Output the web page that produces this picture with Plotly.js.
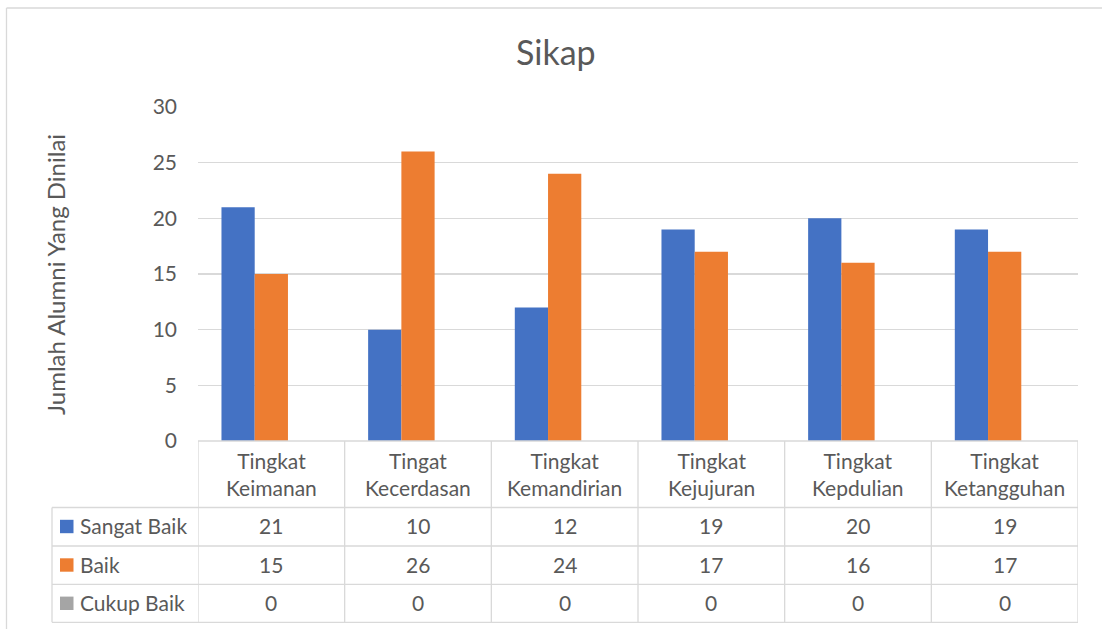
<!DOCTYPE html>
<html>
<head>
<meta charset="utf-8">
<script src="https://cdn.plot.ly/plotly-3.0.1.min.js"></script>
<style>html,body{margin:0;padding:0;background:#fff;}#chart{width:1102px;height:629px;}</style>
</head>
<body>
<div id="chart"></div>
<script>
const categories = ["Tingkat Keimanan", "Tingat Kecerdasan", "Tingkat Kemandirian", "Tingkat Kejujuran", "Tingkat Kepdulian", "Tingkat Ketangguhan"];
const seriesNames = ["Sangat Baik", "Baik", "Cukup Baik"];
const sangatBaik = [21, 10, 12, 19, 20, 19];
const baik = [15, 26, 24, 17, 16, 17];
const cukupBaik = [0, 0, 0, 0, 0, 0];
const yTicks = [0, 5, 10, 15, 20, 25, 30];
const chartTitle = "Sikap";
const yTitle = "Jumlah Alumni Yang Dinilai";

const colors = ["#4472c4", "#ed7d31", "#a5a5a5"];
const seriesValues = [sangatBaik, baik, cukupBaik];
const FONT = "Lato, 'Open Sans', sans-serif";
const TXT = "#595959";
const LINE = "#d9d9d9";
const FS = 21;

// pixel -> paper helpers (plot area: x 198..1078, y 107..441)
const L = 198, R = 1078, T = 107, B = 441;
const px = x => (x - L) / (R - L);
const py = y => (B - y) / (B - T);

const traces = seriesValues.map((vals, i) => ({
  type: "bar",
  name: seriesNames[i],
  x: categories,
  y: vals,
  marker: {color: colors[i], line: {width: 0}},
  hoverinfo: "x+y+name"
}));

const shapes = [];
const hline = (y, x0, x1) => shapes.push({type: "line", xref: "paper", yref: "paper", x0: px(x0), x1: px(x1), y0: py(y), y1: py(y), line: {color: LINE, width: 1.3}});
const vlinePx = (x, y0, y1) => shapes.push({type: "line", xref: "paper", yref: "paper", x0: px(x), x1: px(x), y0: py(y0), y1: py(y1), line: {color: LINE, width: 1.3}});

// outer chart frame (top & left)
shapes.push({type: "line", xref: "paper", yref: "paper", x0: px(6.5), x1: px(1102), y0: py(8), y1: py(8), line: {color: "#d9d9d9", width: 1.3}});
shapes.push({type: "line", xref: "paper", yref: "paper", x0: px(6.5), x1: px(6.5), y0: py(8), y1: py(629), line: {color: "#d9d9d9", width: 1.3}});

// data table
const rowY = [507.5, 546, 584.3, 622.3];
rowY.forEach(y => hline(y, 52, R));
hline(B, L, R);
vlinePx(52, 507.5, 622.3);
for (let k = 0; k <= categories.length; k++) {
  shapes.push({type: "line", xref: "x", yref: "paper", x0: k - 0.5, x1: k - 0.5, y0: py(B), y1: py(622.3), line: {color: LINE, width: 1.3}});
}

const annotations = [];
// title
annotations.push({text: chartTitle, xref: "paper", yref: "paper", x: px(556), y: py(52), xanchor: "center", yanchor: "middle", showarrow: false, font: {family: FONT, size: 34, color: TXT}});
// y axis title
annotations.push({text: yTitle, xref: "paper", yref: "paper", x: px(55), y: py(275), textangle: -90, xanchor: "center", yanchor: "middle", showarrow: false, font: {family: FONT, size: 24, color: TXT}});
// header: category labels
categories.forEach((c, i) => {
  const parts = c.split(" ");
  annotations.push({text: parts[0] + "<br>" + parts.slice(1).join(" "), xref: "x", yref: "paper", x: i, y: py(474), xanchor: "center", yanchor: "middle", showarrow: false, font: {family: FONT, size: FS, color: TXT}});
});
// rows
const rowCenters = [525.5, 564, 602.3];
seriesNames.forEach((s, r) => {
  shapes.push({type: "rect", xref: "paper", yref: "paper", x0: px(60), x1: px(73.5), y0: py(rowCenters[r] + 1 - 6.7), y1: py(rowCenters[r] + 1 + 6.7), fillcolor: colors[r], line: {width: 0}});
  annotations.push({text: s, xref: "paper", yref: "paper", x: px(78), y: py(rowCenters[r]), xanchor: "left", yanchor: "middle", showarrow: false, font: {family: FONT, size: FS, color: TXT}});
  seriesValues[r].forEach((v, i) => {
    annotations.push({text: String(v), xref: "x", yref: "paper", x: i, y: py(rowCenters[r]), xanchor: "center", yanchor: "middle", showarrow: false, font: {family: FONT, size: FS, color: TXT}});
  });
});

const layout = {
  width: 1102, height: 629,
  margin: {l: L, r: 1102 - R, t: T, b: 629 - B, pad: 0},
  paper_bgcolor: "#ffffff", plot_bgcolor: "#ffffff",
  showlegend: false,
  barmode: "group", bargap: 0.32, bargroupgap: 0,
  font: {family: FONT, color: TXT, size: FS},
  xaxis: {type: "category", showticklabels: false, showgrid: false, zeroline: false, showline: false, ticks: "", range: [-0.5, 5.5], fixedrange: true},
  yaxis: {range: [0, 30], tickvals: yTicks, ticktext: yTicks.map(String), showgrid: true, gridcolor: LINE, gridwidth: 1.3, zeroline: false, showline: false, ticks: "", ticklabelstandoff: 20, tickfont: {family: FONT, size: FS, color: TXT}, fixedrange: true},
  shapes: shapes,
  annotations: annotations
};

Plotly.newPlot("chart", traces, layout, {displayModeBar: false, staticPlot: true});
</script>
</body>
</html>
